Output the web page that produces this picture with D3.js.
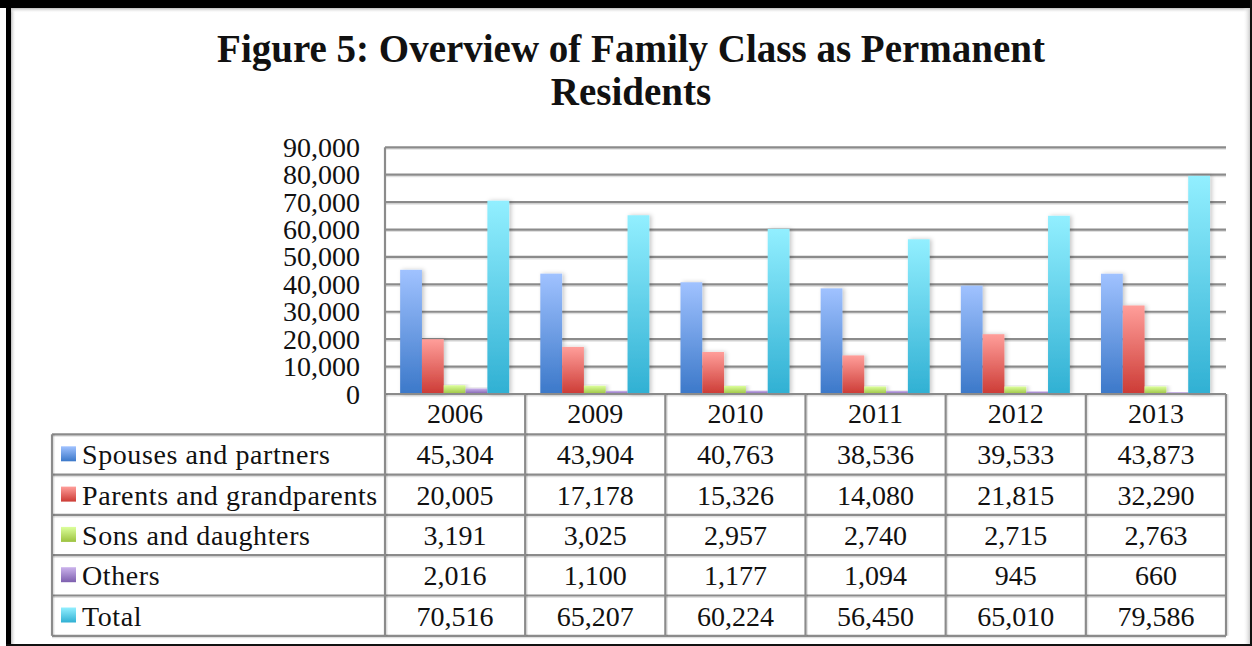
<!DOCTYPE html>
<html>
<head>
<meta charset="utf-8">
<script src="https://cdn.jsdelivr.net/npm/d3@7"></script>
<style>
html,body{margin:0;padding:0;background:#fff;}
svg{display:block;}
text{font-family:"Liberation Serif","Times New Roman",serif;fill:#111;}
</style>
</head>
<body>
<svg id="chart" width="1252" height="646"></svg>
<script>
const years = ["2006","2009","2010","2011","2012","2013"];
const seriesNames = ["Spouses and partners","Parents and grandparents","Sons and daughters","Others","Total"];
const spouses = [45304,43904,40763,38536,39533,43873];
const parents = [20005,17178,15326,14080,21815,32290];
const sons = [3191,3025,2957,2740,2715,2763];
const others = [2016,1100,1177,1094,945,660];
const total = [70516,65207,60224,56450,65010,79586];
const yTicks = [0,10000,20000,30000,40000,50000,60000,70000,80000,90000];
const titleLines = ["Figure 5: Overview of Family Class as Permanent","Residents"];

const seriesValues = [spouses, parents, sons, others, total];
const gradStops = [
  ["#a0c2ff","#3b78c9"],
  ["#ff9e9a","#cc3b35"],
  ["#dcff9c","#9cc23f"],
  ["#cbb3ec","#7d5fae"],
  ["#92efff","#30b0d3"]
];

const svg = d3.select("#chart");
const defs = svg.append("defs");
gradStops.forEach((g,i)=>{
  const lg = defs.append("linearGradient").attr("id","g"+i).attr("x1",0).attr("y1",0).attr("x2",0).attr("y2",1);
  lg.append("stop").attr("offset","0%").attr("stop-color",g[0]);
  lg.append("stop").attr("offset","100%").attr("stop-color",g[1]);
});
const f = defs.append("filter").attr("id","sh").attr("x","-30%").attr("y","-10%").attr("width","160%").attr("height","120%");
f.append("feDropShadow").attr("dx",2).attr("dy",0).attr("stdDeviation",2).attr("flood-color","#000").attr("flood-opacity",0.22);

// frame
svg.append("rect").attr("x",0).attr("y",0).attr("width",1252).attr("height",8).attr("fill","#000");
svg.append("rect").attr("x",6).attr("y",0).attr("width",5).attr("height",646).attr("fill","#000");
svg.append("rect").attr("x",1250).attr("y",0).attr("width",2).attr("height",646).attr("fill","#111");
svg.append("rect").attr("x",6).attr("y",644).attr("width",1246).attr("height",2).attr("fill","#111");
const sg = defs.append("linearGradient").attr("id","shl").attr("x1",0).attr("x2",1).attr("y1",0).attr("y2",0);
sg.append("stop").attr("offset","0%").attr("stop-color","#bbb");
sg.append("stop").attr("offset","100%").attr("stop-color","#fff").attr("stop-opacity",0);
svg.append("rect").attr("x",11).attr("y",8).attr("width",5).attr("height",636).attr("fill","url(#shl)");
const sgt = defs.append("linearGradient").attr("id","sht").attr("x1",0).attr("x2",0).attr("y1",0).attr("y2",1);
sgt.append("stop").attr("offset","0%").attr("stop-color","#bbb");
sgt.append("stop").attr("offset","100%").attr("stop-color","#fff").attr("stop-opacity",0);
svg.append("rect").attr("x",11).attr("y",8).attr("width",1239).attr("height",5).attr("fill","url(#sht)");
const sgr = defs.append("linearGradient").attr("id","shr").attr("x1",1).attr("x2",0).attr("y1",0).attr("y2",0);
sgr.append("stop").attr("offset","0%").attr("stop-color","#ccc");
sgr.append("stop").attr("offset","100%").attr("stop-color","#fff").attr("stop-opacity",0);
svg.append("rect").attr("x",1243).attr("y",8).attr("width",7).attr("height",636).attr("fill","url(#shr)");

// title
svg.append("text").attr("x",631).attr("y",62).attr("text-anchor","middle")
  .style("font-weight","bold").style("font-size","39px").text(titleLines[0]);
svg.append("text").attr("x",631).attr("y",105).attr("text-anchor","middle")
  .style("font-weight","bold").style("font-size","39px").text(titleLines[1]);

const plotL = 385, plotR = 1226, plotT = 147.3, plotB = 394;
const x0 = d3.scaleBand().domain(years).range([plotL, plotR]).padding(0);
const x1 = d3.scaleBand().domain(seriesNames).range([x0.bandwidth()*0.108, x0.bandwidth()*0.886]).padding(0);
const y = d3.scaleLinear().domain([0,90000]).range([plotB, plotT]);

const hline = (g, x1v, x2v, yv) => {
  g.append("line").attr("x1",x1v).attr("x2",x2v).attr("y1",yv+1.8).attr("y2",yv+1.8)
    .attr("stroke","#000").attr("stroke-opacity",0.12).attr("stroke-width",1.5);
  g.append("line").attr("x1",x1v).attr("x2",x2v).attr("y1",yv).attr("y2",yv)
    .attr("stroke","#8b8b8b").attr("stroke-width",2.2);
};

// gridlines
const gg = svg.append("g");
yTicks.filter(d=>d>0).forEach(d=>hline(gg, plotL, plotR, y(d)));
svg.append("line").attr("x1",plotL).attr("x2",plotL).attr("y1",plotT).attr("y2",plotB)
  .attr("stroke","#8b8b8b").attr("stroke-width",2.2);

// y tick labels
const fmt = d3.format(",");
svg.append("g").selectAll("text").data(yTicks).join("text")
  .attr("x",360).attr("y",d=>y(d)).attr("dy","0.34em").attr("text-anchor","end")
  .style("font-size","28px").text(d=>fmt(d));

// bars
const groups = svg.append("g").selectAll("g").data(years).join("g")
  .attr("transform",d=>`translate(${x0(d)},0)`);
groups.selectAll("rect").data((d,i)=>seriesNames.map((s,j)=>({s, j, v:seriesValues[j][i]}))).join("rect")
  .attr("x",d=>x1(d.s)).attr("width",x1.bandwidth())
  .attr("y",d=>y(d.v)).attr("height",d=>plotB - y(d.v))
  .attr("fill",d=>`url(#g${d.j})`).attr("filter","url(#sh)");

// table
const headT = 394, rowH = 40.3, tableL = 52;
const rowTop = i => headT + rowH*(i+1);
const tg = svg.append("g");
hline(tg, plotL, plotR, headT);
d3.range(6).forEach(i=>hline(tg, tableL, plotR, rowTop(i)));
const vline = (xx, y1v, y2v) => {
  tg.append("line").attr("x1",xx+1.8).attr("x2",xx+1.8).attr("y1",y1v).attr("y2",y2v)
    .attr("stroke","#000").attr("stroke-opacity",0.1).attr("stroke-width",1.5);
  tg.append("line").attr("x1",xx).attr("x2",xx).attr("y1",y1v).attr("y2",y2v)
    .attr("stroke","#8b8b8b").attr("stroke-width",2.2);
};
vline(tableL, rowTop(0), rowTop(5));
years.map(d=>x0(d)).concat([plotR]).forEach(xx=>vline(xx, headT, rowTop(5)));

tg.selectAll("text.yr").data(years).join("text").attr("class","yr")
  .attr("x",d=>x0(d)+x0.bandwidth()/2).attr("y",headT+29).attr("text-anchor","middle")
  .style("font-size","28px").text(d=>d);
seriesNames.forEach((s,j)=>{
  tg.append("rect").attr("x",61).attr("y",rowTop(j)+12).attr("width",15).attr("height",15).attr("fill",`url(#g${j})`);
  tg.append("text").attr("x",82).attr("y",rowTop(j)+30).style("font-size","28px").style("letter-spacing","0.6px").text(s);
  tg.selectAll(null).data(years).join("text")
    .attr("x",d=>x0(d)+x0.bandwidth()/2).attr("y",rowTop(j)+30).attr("text-anchor","middle")
    .style("font-size","28px").text((d,i)=>fmt(seriesValues[j][i]));
});
</script>
</body>
</html>
